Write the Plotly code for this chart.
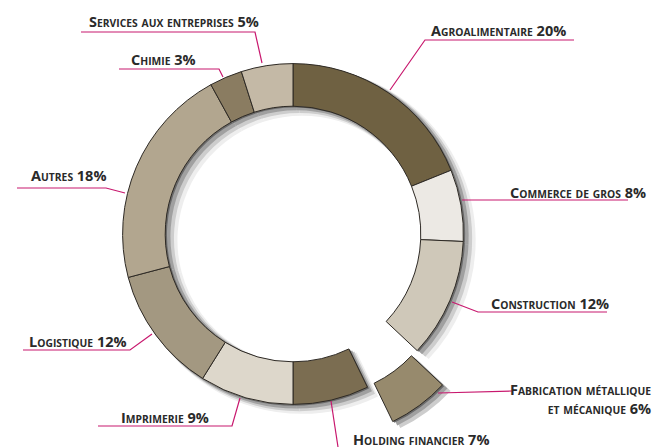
import math
import plotly.graph_objects as go

W, H = 655, 447

# ---- data (shares as drawn in the picture, labels as printed) ----
sectors = ["Agroalimentaire", "Commerce de gros", "Construction",
           "Fabrication métallique et mécanique", "Holding financier",
           "Imprimerie", "Logistique", "Autres", "Chimie",
           "Services aux entreprises"]
shares = [18.9, 6.8, 11.3, 5.8, 7.2, 8.9, 12.0, 21.1, 3.1, 4.9]
printed_pct = [20, 8, 12, 6, 7, 9, 12, 18, 3, 5]
colors = ["#6F6142", "#ECE9E4", "#CFC8B9", "#978A6D", "#7B6D51",
          "#DDD7CB", "#A39881", "#B2A68F", "#8A7C61", "#C4B9A6"]
pulled = "Fabrication métallique et mécanique"

# ---- layout constants (pixels) ----
CX, CY = 293, 234          # centre of ring (from top-left)
R = 170.4                  # outer radius
HOLE = 0.75
PULL = 0.25
PINK = "#C8186E"
TXT = "#2A2A2A"
CLEAR = "rgba(255,255,255,0)"


def px(x):
    return x / W


def py(y):
    return 1 - y / H


def dom(cx, cy, half):
    return dict(x=[px(cx - half), px(cx + half)],
                y=[py(cy + half), py(cy - half)])


def fits(cx, cy, half):
    return cx - half >= 0 and cx + half <= W and cy - half >= 0 and cy + half <= H


fig = go.Figure()

# ---- soft shadow: opaque grey rings, lightest/farthest first ----
idx = sectors.index(pulled)
total = sum(shares)
mid = (sum(shares[:idx]) + shares[idx] / 2) / total * 2 * math.pi
pdx, pdy = PULL * R * math.sin(mid), -PULL * R * math.cos(mid)
greys = {1: 105, 3: 160, 5: 205, 7: 238}
for k in (7, 5, 3, 1):
    ox, oy, g = 1.3 * k, 0.9 * k, 0.45 * k
    half = R + g
    hole_k = (HOLE * R - g) / half
    lvl = greys[k]
    sc = f"rgb({lvl},{lvl},{lvl})"
    body_cols = [sc if s != pulled else CLEAR for s in sectors]
    piece_cols = [CLEAR if s != pulled else sc for s in sectors]
    for cols, (cx, cy) in ((body_cols, (CX + ox, CY + oy)),
                           (piece_cols, (CX + pdx + ox, CY + pdy + oy))):
        if not fits(cx, cy, half):
            continue
        fig.add_trace(go.Pie(
            labels=sectors, values=shares, sort=False, direction="clockwise",
            rotation=0, hole=hole_k, textinfo="none", showlegend=False,
            marker=dict(colors=cols, line=dict(color=CLEAR, width=0.5)),
            domain=dom(cx, cy, half)))

# ---- main ring ----
fig.add_trace(go.Pie(
    labels=sectors, values=shares, sort=False, direction="clockwise",
    rotation=0, hole=HOLE, textinfo="none", showlegend=False,
    pull=[PULL if s == pulled else 0 for s in sectors],
    marker=dict(colors=colors, line=dict(color="#2E2A25", width=1)),
    domain=dom(CX, CY, R * (1 + PULL))))


# ---- labels in small caps ----
BIG, SMALL = 14.5, 10.3


def smallcaps(t):
    lines = []
    for line in t.split("\n"):
        out = []
        for ch in line:
            if ch.islower():
                out.append(f"<span style='font-size:{SMALL}px'>{ch.upper()}</span>")
            else:
                out.append(ch)
        lines.append("".join(out))
    return "<br>".join(lines)


label_texts = [f"{s} {p}%" for s, p in zip(sectors, printed_pct)]
label_texts[3] = f"Fabrication métallique\net mécanique {printed_pct[3]}%"

# (anchor x, centre y, xanchor) per label
label_pos = [(429, 30, "left"), (508, 192, "left"), (489, 303, "left"),
             (653, 399, "right"), (351, 439, "left"), (119, 417, "left"),
             (27, 341, "left"), (29, 176, "left"), (129, 59, "left"),
             (87, 21, "left")]
leaders = [[(574, 40), (425, 40), (390, 90)],
           [(628, 200), (462, 200)],
           [(607, 312), (478, 312), (452, 302)],
           [(512, 391), (438, 393)],
           [(331, 401), (338, 447)],
           [(98, 426), (232, 426), (240, 398)],
           [(23, 350), (130, 350), (152, 334)],
           [(17, 188), (106, 188), (125, 193)],
           [(119, 69), (219, 69), (223, 77)],
           [(81, 32), (255, 32), (262, 63)]]

for txt, (x, y, xa) in zip(label_texts, label_pos):
    fig.add_annotation(
        x=px(x), y=py(y), xref="paper", yref="paper", xanchor=xa,
        yanchor="middle", align="right" if xa == "right" else "left",
        text="<b>" + smallcaps(txt) + "</b>", showarrow=False,
        font=dict(family="Open Sans", size=BIG, color=TXT))

for pts in leaders:
    path = "M " + " L ".join(f"{px(a)},{py(b)}" for a, b in pts)
    fig.add_shape(type="path", path=path, xref="paper", yref="paper",
                  line=dict(color=PINK, width=1.2))

fig.update_layout(width=W, height=H, margin=dict(l=0, r=0, t=0, b=0))
fig.write_html("out.html", config={"displayModeBar": False},
               post_script="document.body.style.margin='0';")
